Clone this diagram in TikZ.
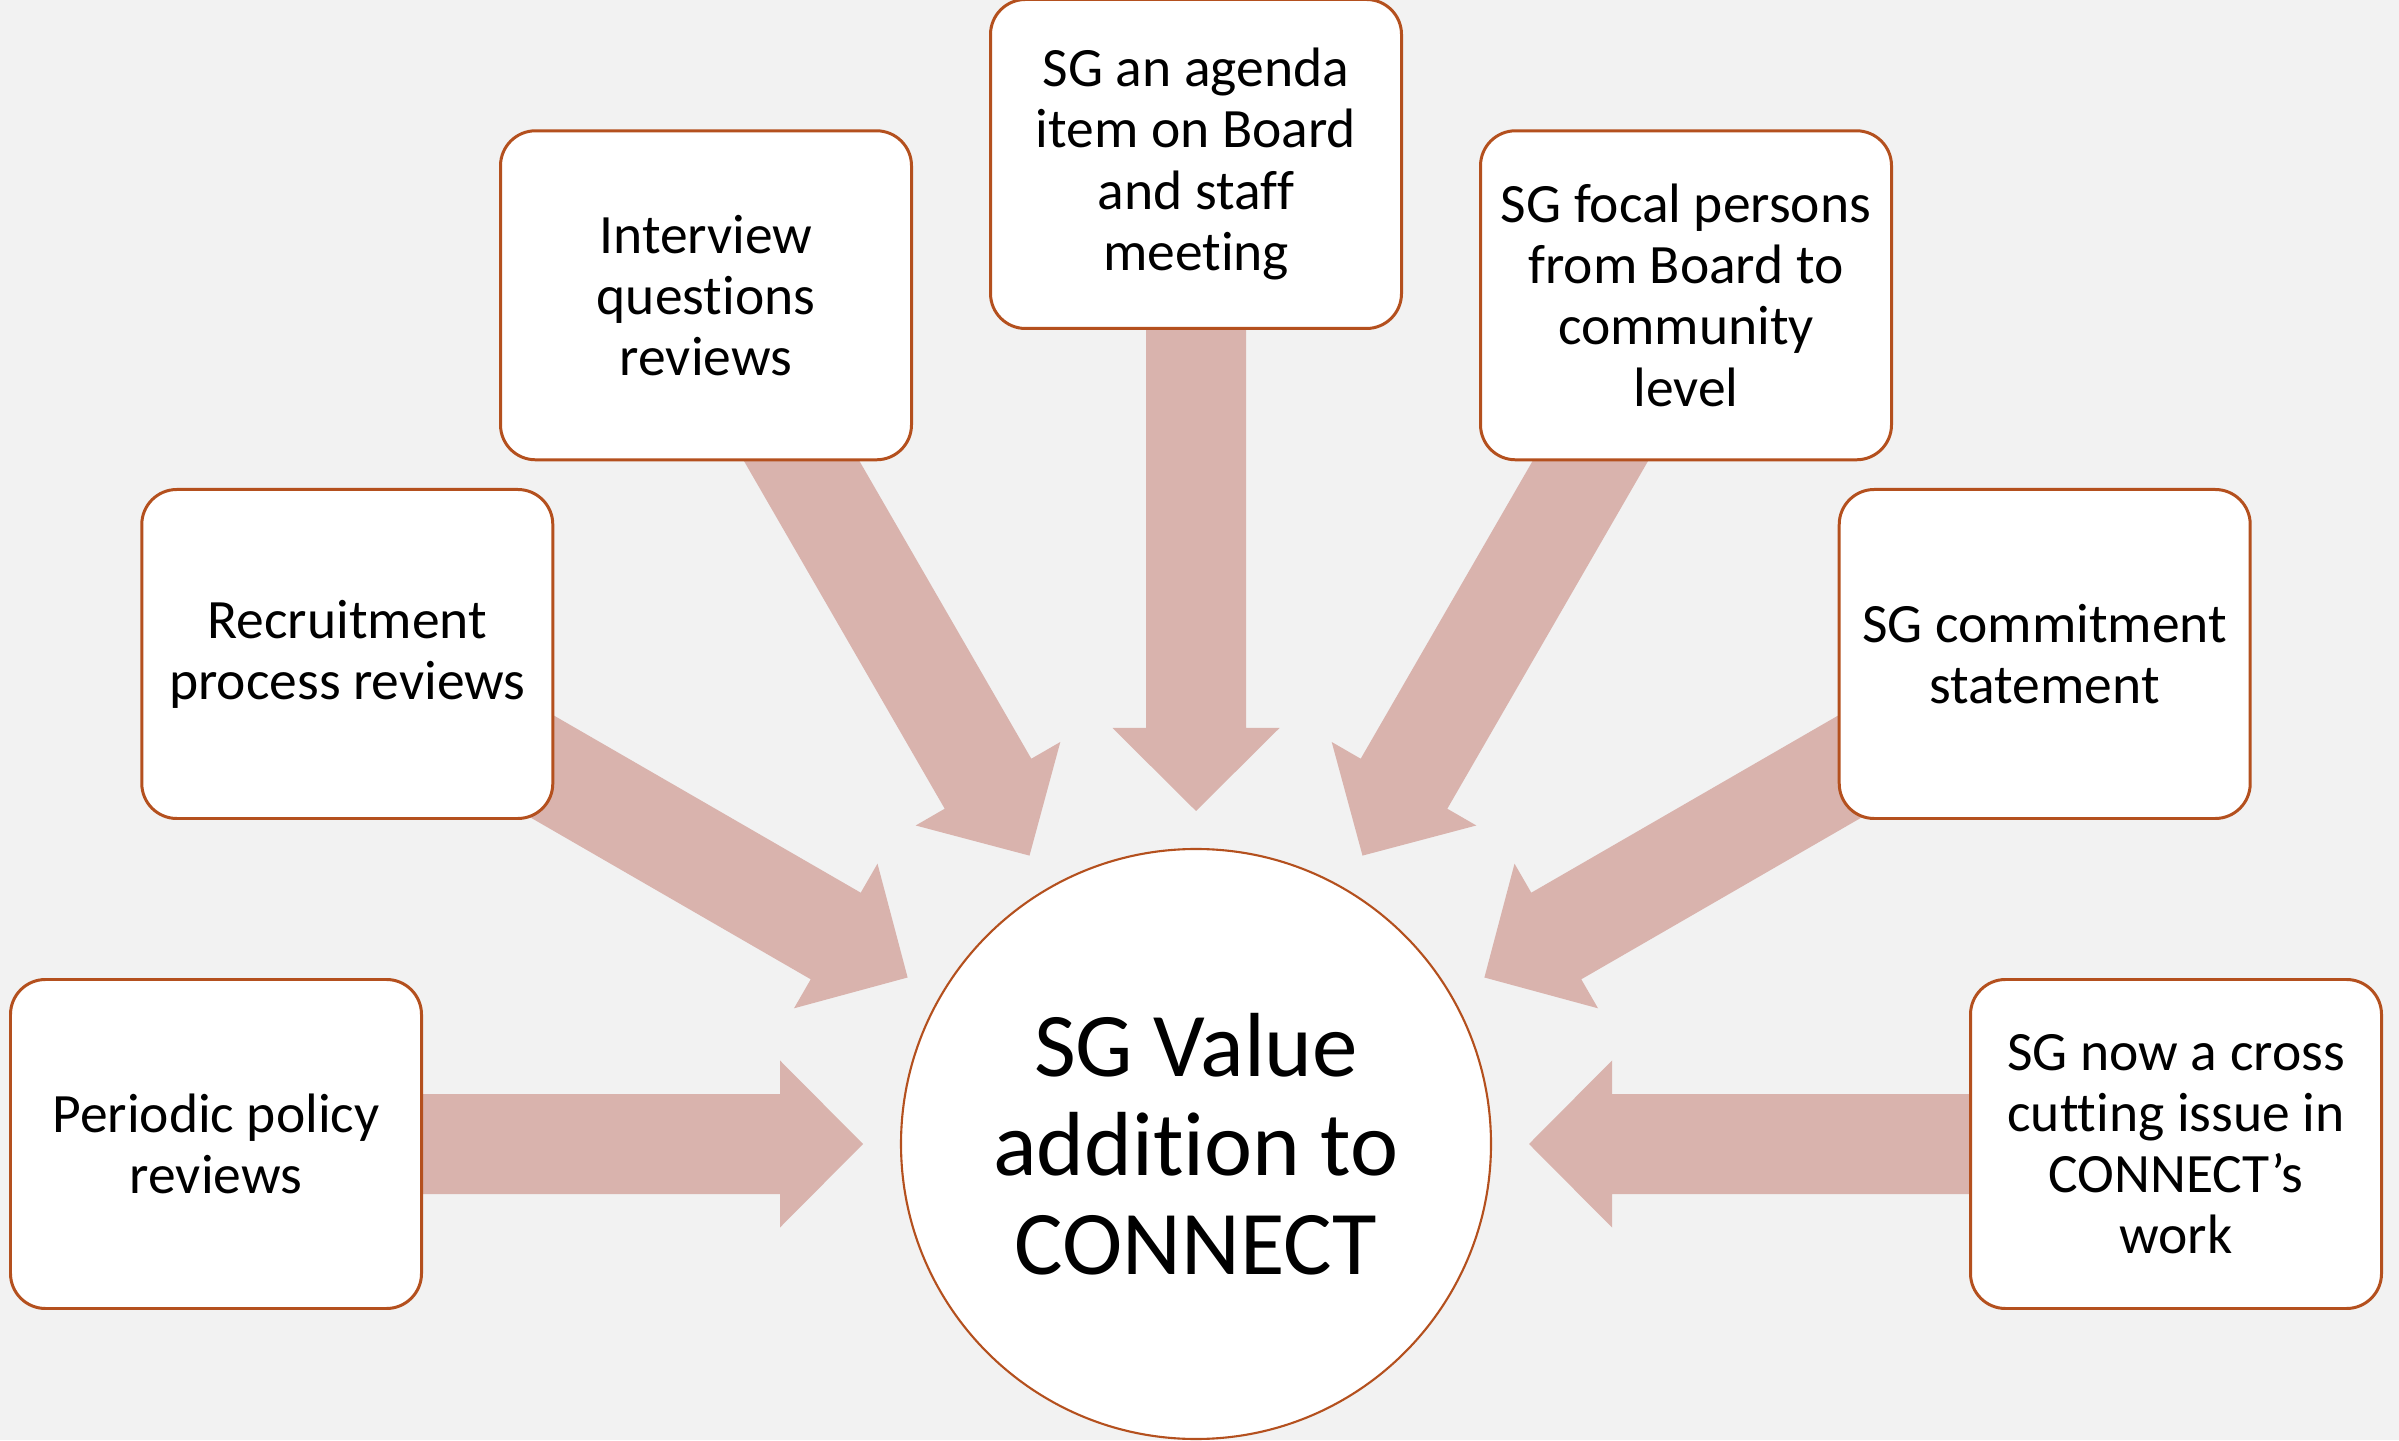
\documentclass[tikz,border=0pt]{standalone}
\usepackage{fontspec}
\setmainfont{Carlito}[Ligatures=NoCommon]
\usetikzlibrary{calc}
\definecolor{pagebg}{HTML}{F2F2F2}
\definecolor{arrowfill}{HTML}{D9B3AD}
\definecolor{rust}{HTML}{B4501E}
\tikzset{
  itembox/.style={draw=rust, line width=0.85pt, fill=white, rounded corners=0.35cm,
    minimum width=4.11cm, minimum height=3.29cm, inner sep=0pt, align=center,
    font=\fontsize{15.8}{17.4}\selectfont},
  hubnode/.style={circle, draw=rust, line width=0.6pt, fill=white, minimum size=5.9cm,
    inner sep=0pt, align=center, font=\fontsize{25.9}{28.1}\selectfont},
  blockarrow/.style={fill=arrowfill}
}
% fat arrow pointing from a box (at the given angle) toward the hub
\newcommand\radialarrow[1]{%
  \begin{scope}[shift={(hubc)}, rotate=#1]
    \fill[blockarrow] (3.33,0) -- (4.16,0.835) -- (4.16,0.5) -- (9.8,0.5)
      -- (9.8,-0.5) -- (4.16,-0.5) -- (4.16,-0.835) -- cycle;
  \end{scope}}
\begin{document}
\begin{tikzpicture}
  \useasboundingbox (0,0) rectangle (23.99,14.40);
  \fill[pagebg] (0,0) rectangle (23.99,14.40);
  \coordinate (hubc) at (11.96,2.96);

  % arrows underneath the boxes
  \foreach \a in {180,150,120,90,60,30,0} { \radialarrow{\a} }

  \node[hubnode] (hub) at (hubc) {SG Value\\addition to\\CONNECT};

  \node[itembox] (policy)     at ($(hubc)+(180:9.8)$) {Periodic policy\\reviews};
  \node[itembox] (recruit)    at ($(hubc)+(150:9.8)$) {Recruitment\\process reviews};
  \node[itembox] (interview)  at ($(hubc)+(120:9.8)$) {Interview\\questions\\reviews};
  \node[itembox] (agenda)     at ($(hubc)+(90:9.8)$)  {SG an agenda\\item on Board\\and staff\\meeting};
  \node[itembox] (focal)      at ($(hubc)+(60:9.8)$)  {SG focal persons\\from Board to\\community\\level};
  \node[itembox] (commit)     at ($(hubc)+(30:9.8)$)  {SG commitment\\statement};
  \node[itembox] (crosscut)   at ($(hubc)+(0:9.8)$)   {SG now a cross\\cutting issue in\\CONNECT’s\\work};
\end{tikzpicture}
\end{document}
